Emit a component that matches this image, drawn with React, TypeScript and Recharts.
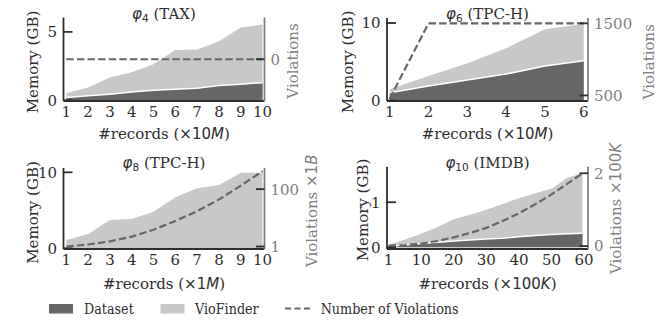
import React from 'react';
import { ComposedChart, Area, Line, XAxis, YAxis } from 'recharts';

const FONT = '"DejaVu Serif", serif';
const LEGEND_FONT = '"DejaVu Serif Condensed", "DejaVu Serif", serif';
const MATH = '"DejaVu Sans", sans-serif';
const INK = '#2e2e2e';
const GREY = '#808080';
const DARK = '#666666';
const LIGHT = '#c8c8c8';
const LINE = '#666666';

// ---- φ4 (TAX) ----
const taxRecords = [1, 2, 3, 4, 5, 6, 7, 8, 9, 10];
const taxVioFinder = [0.52, 0.93, 1.66, 2.05, 2.63, 3.67, 3.72, 4.32, 5.32, 5.54];
const taxDataset = [0.2, 0.33, 0.45, 0.6, 0.74, 0.81, 0.89, 1.08, 1.18, 1.29];
const taxViolations = [0, 0, 0, 0, 0, 0, 0, 0, 0, 0];

// ---- φ6 (TPC-H) ----
const tpch6Records = [1, 2, 3, 4, 5, 6];
const tpch6VioFinder = [1.45, 3.16, 4.8, 6.74, 9.19, 9.87];
const tpch6Dataset = [1.0, 1.87, 2.65, 3.42, 4.45, 5.13];
const tpch6Violations = [455, 1500, 1500, 1500, 1500, 1500];

// ---- φ8 (TPC-H) ----
const tpch8Records = [1, 2, 3, 4, 5, 6, 7, 8, 9, 10];
const tpch8VioFinder = [1.09, 1.88, 3.72, 3.86, 4.82, 6.71, 7.89, 8.33, 9.95, 9.95];
const tpch8Violations = [1, 4.5, 10, 18, 30, 45, 62, 82, 106, 131];

// ---- φ10 (IMDB) ----
const imdbRecords = [0, 5, 10, 15, 20, 25, 30, 35, 40, 45, 50, 55, 59.5];
const imdbVioFinder = [0.05, 0.17, 0.3, 0.45, 0.62, 0.72, 0.83, 0.96, 1.09, 1.2, 1.3, 1.55, 1.64];
const imdbDataset = [0.02, 0.05, 0.08, 0.11, 0.14, 0.16, 0.18, 0.2, 0.23, 0.26, 0.28, 0.3, 0.31];
const imdbViolations = [0.01, 0.03, 0.07, 0.14, 0.24, 0.36, 0.5, 0.69, 0.9, 1.15, 1.42, 1.72, 2.0];

// tick labels
const xTicks10 = [1, 2, 3, 4, 5, 6, 7, 8, 9, 10];
const xTickLabels10 = ['1', '2', '3', '4', '5', '6', '7', '8', '9', '10'];
const xTicks6 = [1, 2, 3, 4, 5, 6];
const xTickLabels6 = ['1', '2', '3', '4', '5', '6'];
const xTicksImdb = [0, 10, 20, 30, 40, 50, 60];
const xTickLabelsImdb = ['1', '10', '20', '30', '40', '50', '60'];

const legendItems = [
  { label: 'Dataset', kind: 'fill', color: DARK },
  { label: 'VioFinder', kind: 'fill', color: LIGHT },
  { label: 'Number of Violations', kind: 'dash', color: LINE },
];

const W = 336;
const XAXIS_H = 30;
const RAXIS_W = 40;

type Panel = {
  id: string;
  chartLeft: number;
  chartTop: number;
  chartH: number;
  plot: { l: number; r: number; t: number; b: number };
  x: number[];
  total: number[];
  dataset?: number[];
  viol: number[];
  xDomain: [number, number];
  xTicks: number[];
  xTickLabels: string[];
  yDomain: [number, number];
  yTicks: number[];
  vDomain: [number, number];
  vTicks: number[];
  titleSub: string;
  titleName: string;
  unitNum: string;
  unitLetter: string;
  vSuffix?: { num: string; letter: string };
  title: [number, number];
  yLab: [number, number];
  vLab: [number, number];
  xLab: [number, number];
};

const panels: Panel[] = [
  {
    id: 'p1', chartLeft: 0, chartTop: 0, chartH: 150,
    plot: { l: 63.5, r: 264.5, t: 17.5, b: 101 },
    x: taxRecords, total: taxVioFinder, dataset: taxDataset, viol: taxViolations,
    xDomain: [0.87, 10.09], xTicks: xTicks10, xTickLabels: xTickLabels10,
    yDomain: [-0.05, 6.05], yTicks: [0, 5],
    vDomain: [-0.055, 0.055], vTicks: [0],
    titleSub: '4', titleName: 'TAX', unitNum: '10', unitLetter: 'M',
    title: [164, 19.3], yLab: [33.3, 62], vLab: [293.3, 61], xLab: [164, 139],
  },
  {
    id: 'p2', chartLeft: 336, chartTop: 0, chartH: 150,
    plot: { l: 387, r: 588, t: 18, b: 101 },
    x: tpch6Records, total: tpch6VioFinder, dataset: tpch6Dataset, viol: tpch6Violations,
    xDomain: [0.93, 6.11], xTicks: xTicks6, xTickLabels: xTickLabels6,
    yDomain: [-0.065, 10.65], yTicks: [0, 10],
    vDomain: [423, 1574], vTicks: [500, 1500],
    titleSub: '6', titleName: 'TPC-H', unitNum: '10', unitLetter: 'M',
    title: [487.5, 19], yLab: [347.7, 62], vLab: [649.3, 61.7], xLab: [487.5, 139],
  },
  {
    id: 'p3', chartLeft: 0, chartTop: 135, chartH: 165,
    plot: { l: 63.5, r: 264.5, t: 168, b: 249 },
    x: tpch8Records, total: tpch8VioFinder, viol: tpch8Violations,
    xDomain: [0.87, 10.09], xTicks: xTicks10, xTickLabels: xTickLabels10,
    yDomain: [-0.09, 10.57], yTicks: [0, 10],
    vDomain: [-3.3, 136.5], vTicks: [1, 100],
    titleSub: '8', titleName: 'TPC-H', unitNum: '1', unitLetter: 'M',
    vSuffix: { num: '1', letter: 'B' },
    title: [164, 168], yLab: [33.3, 212.5], vLab: [311.7, 210.8], xLab: [164, 289],
  },
  {
    id: 'p4', chartLeft: 336, chartTop: 135, chartH: 165,
    plot: { l: 387, r: 588, t: 166.7, b: 249 },
    x: imdbRecords, total: imdbVioFinder, dataset: imdbDataset, viol: imdbViolations,
    xDomain: [-0.5, 61.2], xTicks: xTicksImdb, xTickLabels: xTickLabelsImdb,
    yDomain: [-0.04, 1.79], yTicks: [0, 1],
    vDomain: [-0.08, 2.18], vTicks: [0, 2],
    titleSub: '10', titleName: 'IMDB', unitNum: '100', unitLetter: 'K',
    vSuffix: { num: '100', letter: 'K' },
    title: [487.5, 168], yLab: [362.7, 210], vLab: [616, 208.5], xLab: [487.5, 289],
  },
];

const LeftTick = (props: any) => {
  const { x, y, payload } = props;
  const spine = x + 6.5;
  return (
    <g>
      <line x1={spine} x2={spine + 9} y1={y} y2={y} stroke={INK} strokeWidth={1.8} />
      <text x={x} y={y} dy="0.36em" textAnchor="end" fontFamily={FONT} fontSize={15} fill={INK}>
        {payload.value}
      </text>
    </g>
  );
};

const RightTick = (props: any) => {
  const { x, y, payload } = props;
  const spine = x - 6;
  return (
    <g>
      <line x1={spine - 8.5} x2={spine} y1={y} y2={y} stroke={INK} strokeWidth={1.8} />
      <text x={x} y={y} dy="0.36em" textAnchor="start" fontFamily={FONT} fontSize={15} fill={GREY}>
        {payload.value}
      </text>
    </g>
  );
};

function PanelChart({ p }: { p: Panel }) {
  const ox = p.chartLeft;
  const oy = p.chartTop;
  const margin = {
    top: p.plot.t - oy,
    left: 0,
    right: ox + W - p.plot.r - RAXIS_W,
    bottom: oy + p.chartH - p.plot.b - XAXIS_H,
  };
  const leftW = p.plot.l - ox;
  const rows = p.x.map((x, i) => ({
    x,
    total: p.total[i],
    dataset: p.dataset ? p.dataset[i] : undefined,
    viol: p.viol[i],
  }));

  const xLabels = () => (
    <g>
      <text x={p.title[0] - ox} y={p.title[1] - oy} textAnchor="middle" fontFamily={FONT} fontSize={15} fill={INK}>
        <tspan fontFamily={MATH} fontStyle="italic">φ</tspan>
        <tspan fontFamily={MATH} fontSize={10.5} dy={3}>{p.titleSub}</tspan>
        <tspan dy={-3}>{'\u00a0(' + p.titleName + ')'}</tspan>
      </text>
      <text x={p.xLab[0] - ox} y={p.xLab[1] - oy} textAnchor="middle" fontFamily={FONT} fontSize={15} fill={INK}>
        <tspan>#records (</tspan>
        <tspan fontFamily={MATH}>{'×' + p.unitNum}</tspan>
        <tspan fontFamily={MATH} fontStyle="italic">{p.unitLetter}</tspan>
        <tspan>)</tspan>
      </text>
    </g>
  );

  const yLabel = () => (
    <text
      x={p.yLab[0] - ox}
      y={p.yLab[1] - oy}
      transform={`rotate(-90 ${p.yLab[0] - ox} ${p.yLab[1] - oy})`}
      textAnchor="middle"
      dominantBaseline="central"
      fontFamily={FONT}
      fontSize={15}
      fill={INK}
    >
      Memory (GB)
    </text>
  );

  const vLabel = () => (
    <text
      x={p.vLab[0] - ox}
      y={p.vLab[1] - oy}
      transform={`rotate(-90 ${p.vLab[0] - ox} ${p.vLab[1] - oy})`}
      textAnchor="middle"
      dominantBaseline="central"
      fontFamily={FONT}
      fontSize={15}
      fill={GREY}
    >
      <tspan>Violations</tspan>
      {p.vSuffix ? (
        <>
          <tspan fontFamily={MATH}>{'\u00a0×' + p.vSuffix.num}</tspan>
          <tspan fontFamily={MATH} fontStyle="italic">{p.vSuffix.letter}</tspan>
        </>
      ) : null}
    </text>
  );

  return (
    <div style={{ position: 'absolute', left: ox, top: oy, width: W, height: p.chartH }}>
      <ComposedChart width={W} height={p.chartH} data={rows} margin={margin} style={{ overflow: 'visible' }}>
        <XAxis
          dataKey="x"
          type="number"
          domain={p.xDomain}
          ticks={p.xTicks}
          allowDataOverflow
          interval={0}
          tickLine={false}
          tickSize={0}
          tickMargin={5}
          height={XAXIS_H}
          axisLine={{ stroke: INK, strokeWidth: 1.8 }}
          tick={{ fill: INK, fontSize: 15, fontFamily: FONT }}
          tickFormatter={(v: number) => p.xTickLabels[p.xTicks.indexOf(v)]}
          label={xLabels}
        />
        <YAxis
          yAxisId="left"
          orientation="left"
          type="number"
          domain={p.yDomain}
          ticks={p.yTicks}
          allowDataOverflow
          interval={0}
          width={leftW}
          tickLine={false}
          tickSize={0}
          tickMargin={6.5}
          axisLine={{ stroke: INK, strokeWidth: 1.8 }}
          tick={<LeftTick />}
          label={yLabel}
        />
        <YAxis
          yAxisId="right"
          orientation="right"
          type="number"
          domain={p.vDomain}
          ticks={p.vTicks}
          allowDataOverflow
          interval={0}
          width={RAXIS_W}
          tickLine={false}
          tickSize={0}
          tickMargin={6}
          axisLine={{ stroke: GREY, strokeWidth: 1.8 }}
          tick={<RightTick />}
          label={vLabel}
        />
        <Area
          yAxisId="left"
          type="linear"
          dataKey="total"
          fill={LIGHT}
          fillOpacity={1}
          stroke="none"
          dot={false}
          activeDot={false}
          isAnimationActive={false}
        />
        {p.dataset ? (
          <Area
            yAxisId="left"
            type="linear"
            dataKey="dataset"
            fill={DARK}
            fillOpacity={1}
            stroke="#ffffff"
            strokeWidth={1.5}
            dot={false}
            activeDot={false}
            isAnimationActive={false}
          />
        ) : null}
        <Line
          yAxisId="right"
          type="linear"
          dataKey="viol"
          stroke={LINE}
          strokeWidth={2.2}
          strokeDasharray="7.4 3.2"
          dot={false}
          activeDot={false}
          isAnimationActive={false}
        />
      </ComposedChart>
    </div>
  );
}

function LegendBox() {
  const xs = [49, 160.5, 285];
  const textXs = [84, 195, 320.7];
  return (
    <svg width={672} height={27} style={{ position: 'absolute', left: 0, top: 295 }}>
      {legendItems.map((it, i) => (
        <g key={it.label}>
          {it.kind === 'fill' ? (
            <rect x={xs[i]} y={9} width={24} height={9.5} fill={it.color} />
          ) : (
            <line x1={xs[i]} x2={xs[i] + 26} y1={13.5} y2={13.5} stroke={it.color} strokeWidth={2} strokeDasharray="6 3.5" />
          )}
          <text x={textXs[i]} y={18.5} fontFamily={LEGEND_FONT} fontStretch="condensed" fontSize={14.2} fill={INK}>
            {it.label}
          </text>
        </g>
      ))}
    </svg>
  );
}

export default function App() {
  return (
    <div style={{ position: 'absolute', left: 0, top: 0, width: 672, height: 322, background: '#ffffff', overflow: 'hidden' }}>
      {panels.map((p) => (
        <PanelChart key={p.id} p={p} />
      ))}
      <LegendBox />
    </div>
  );
}
